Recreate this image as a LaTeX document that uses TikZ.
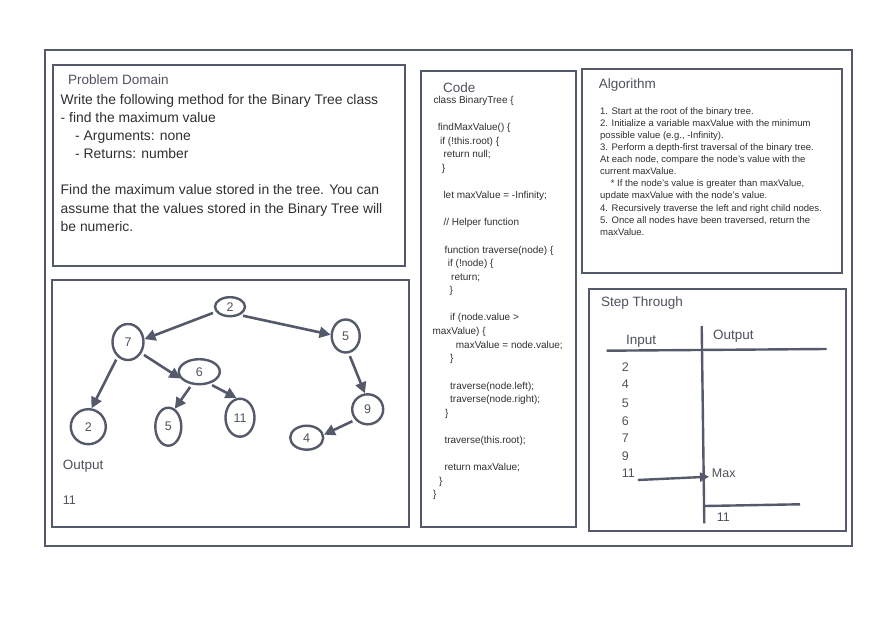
\documentclass[tikz,border=0pt]{standalone}
\usepackage{fontspec}
\setmainfont{Liberation Sans}
\usetikzlibrary{arrows.meta,shapes.geometric,calc}
\definecolor{ln}{RGB}{84,90,106}
\definecolor{tx}{RGB}{48,48,52}
\definecolor{hd}{RGB}{78,82,92}
\newcommand\myfs[1]{\fontsize{#1}{#1}\selectfont}
\begin{document}
\begin{tikzpicture}[x=1pt,y=-1pt,
  box/.style={draw=ln,line width=2.2pt},
  pd/.style={anchor=base west,inner sep=0,text=tx,font=\myfs{13.9}},
  ttl/.style={anchor=base west,inner sep=0,text=hd,font=\myfs{13.5}},
  cd/.style={anchor=base west,inner sep=0,text=tx,font=\myfs{10}},
  al/.style={anchor=base west,inner sep=0,text=tx,font=\myfs{9.5}},
  st/.style={anchor=base west,inner sep=0,text=hd,font=\myfs{12.5}},
  tnode/.style={ellipse,draw=ln,line width=2.4pt,inner sep=0,text=hd,font=\myfs{12.5}},
  tarrow/.style={draw=ln,line width=2.6pt,-{Triangle[length=11pt,width=11pt]},shorten <=3pt},
  sline/.style={draw=ln,line width=2.4pt}
]
\useasboundingbox (0,0) rectangle (892,620);
\fill[white] (0,0) rectangle (892,620);

% outer frame
\draw[draw=ln,line width=2pt] (45,50) rectangle (852,546);

% boxes
\draw[box] (53,65) rectangle (405,266);
\draw[box] (52,280) rectangle (409,527);
\draw[box] (421,71) rectangle (576,527);
\draw[box] (582,69) rectangle (842,273);
\draw[box] (589,289) rectangle (846,531);

% Problem domain
\node[ttl] (pdt) at (68,84.8) {Problem Domain};
\node[pd] (pd1) at (60.5,105) {Write the following method for the Binary Tree class};
\node[pd] (pd2) at (60.5,122.7) {- find the maximum value};
\node[pd] (pd3) at (75,140.7) {- Arguments: none};
\node[pd] (pd4) at (75,158.7) {- Returns: number};
\node[pd] (pd5) at (60.5,195) {Find the maximum value stored in the tree. You can};
\node[pd] (pd6) at (60.5,213.3) {assume that the values stored in the Binary Tree will};
\node[pd] (pd7) at (60.5,231.7) {be numeric.};

% Tree
\node[tnode,minimum width=30pt,minimum height=19pt] (r) at (230,306.7) {2};
\node[tnode,minimum width=31pt,minimum height=36pt] (a) at (128,342) {7};
\node[tnode,minimum width=28pt,minimum height=33pt] (b) at (345.7,336) {5};
\node[tnode,minimum width=41pt,minimum height=25pt] (c) at (199.3,371.7) {6};
\node[tnode,minimum width=35pt,minimum height=35pt] (d) at (88.3,426.7) {2};
\node[tnode,minimum width=26pt,minimum height=38pt] (e) at (168.3,426.7) {5};
\node[tnode,minimum width=29pt,minimum height=38pt] (f) at (240,417.7) {11};
\node[tnode,minimum width=31pt,minimum height=30pt] (g) at (367.7,409.3) {9};
\node[tnode,minimum width=33pt,minimum height=24pt] (h) at (306.7,437.7) {4};

\draw[tarrow] (r.200) -- (a.10);
\draw[tarrow] (r.-40) -- (b.175);
\draw[tarrow] (a.-40) -- (c.200);
\draw[tarrow] (a.-125) -- (d.80);
\draw[tarrow] (c.-120) -- (e.70);
\draw[tarrow] (c.-50) -- (f.100);
\draw[tarrow] (b.-80) -- (g.100);
\draw[tarrow] (g.-140) -- (h.10);

\node[ttl] (tout) at (62.7,469.9) {Output};
\node[st] (tval) at (62.7,504.5) {11};

% Code
\node[ttl] (cdt) at (443,92.4) {Code};
\node[cd] (c0) at (433.3,103.6) {class BinaryTree \{};
\node[cd] (c2) at (437.7,130.8) {findMaxValue() \{};
\node[cd] (c3) at (440,144.4) {if (!this.root) \{};
\node[cd] (c4) at (443.3,158.0) {return null;};
\node[cd] (c5) at (441.7,171.6) {\}};
\node[cd] (c7) at (443.3,198.7) {let maxValue = -Infinity;};
\node[cd] (c9) at (443.3,225.9) {// Helper function};
\node[cd] (c11) at (444.3,253.1) {function traverse(node) \{};
\node[cd] (c12) at (447.7,266.7) {if (!node) \{};
\node[cd] (c13) at (451,280.3) {return;};
\node[cd] (c14) at (449.3,293.9) {\}};
\node[cd] (c16) at (450,321.0) {if (node.value >};
\node[cd] (c17) at (432.3,334.6) {maxValue) \{};
\node[cd] (c18) at (455.7,348.2) {maxValue = node.value;};
\node[cd] (c19) at (450,361.8) {\}};
\node[cd] (c21) at (450,389.0) {traverse(node.left);};
\node[cd] (c22) at (450,402.6) {traverse(node.right);};
\node[cd] (c23) at (445,416.2) {\}};
\node[cd] (c25) at (444.3,443.4) {traverse(this.root);};
\node[cd] (c27) at (444.3,470.5) {return maxValue;};
\node[cd] (c28) at (439,484.1) {\}};
\node[cd] (c29) at (433,497.7) {\}};

% Algorithm
\node[ttl] (alt) at (598.7,88.3) {Algorithm};
\node[al] (a0) at (600,114.1) {1. Start at the root of the binary tree.};
\node[al] (a1) at (600,126.2) {2. Initialize a variable maxValue with the minimum};
\node[al] (a2) at (600,138.4) {possible value (e.g., -Infinity).};
\node[al] (a3) at (600,150.5) {3. Perform a depth-first traversal of the binary tree.};
\node[al] (a4) at (600,162.6) {At each node, compare the node's value with the};
\node[al] (a5) at (600,174.8) {current maxValue.};
\node[al] (a6) at (610.7,186.9) {* If the node's value is greater than maxValue,};
\node[al] (a7) at (600,199.0) {update maxValue with the node's value.};
\node[al] (a8) at (600,211.1) {4. Recursively traverse the left and right child nodes.};
\node[al] (a9) at (600,223.3) {5. Once all nodes have been traversed, return the};
\node[al] (a10) at (600,235.4) {maxValue.};

% Step through
\node[ttl] (stt) at (601,306.6) {Step Through};
\node[ttl] (sin) at (626,345) {Input};
\node[ttl] (sout) at (713,340) {Output};
\draw[sline] (606.7,350.7) -- (826.7,349);
\draw[sline] (701.7,326) -- (704.3,523.3);
\draw[sline] (705,506) -- (800,504.3);
\node[st] (s2) at (621.7,371.1) {2};
\node[st] (s4) at (621.7,388.7) {4};
\node[st] (s5) at (621.7,407.1) {5};
\node[st] (s6) at (621.7,425.1) {6};
\node[st] (s7) at (621.7,442.7) {7};
\node[st] (s9) at (621.7,460.1) {9};
\node[st] (s11) at (621.7,477.7) {11};
\node[st] (smax) at (711.7,477.5) {Max};
\node[st] (sres) at (716.7,521.7) {11};
\draw[draw=ln,line width=2.4pt,-{Triangle[length=9pt,width=9pt]}]
  ($(s11.base east)+(2.7,2.3)$) -- ($(smax.base west)+(-2.7,-0.8)$);
\end{tikzpicture}
\end{document}
